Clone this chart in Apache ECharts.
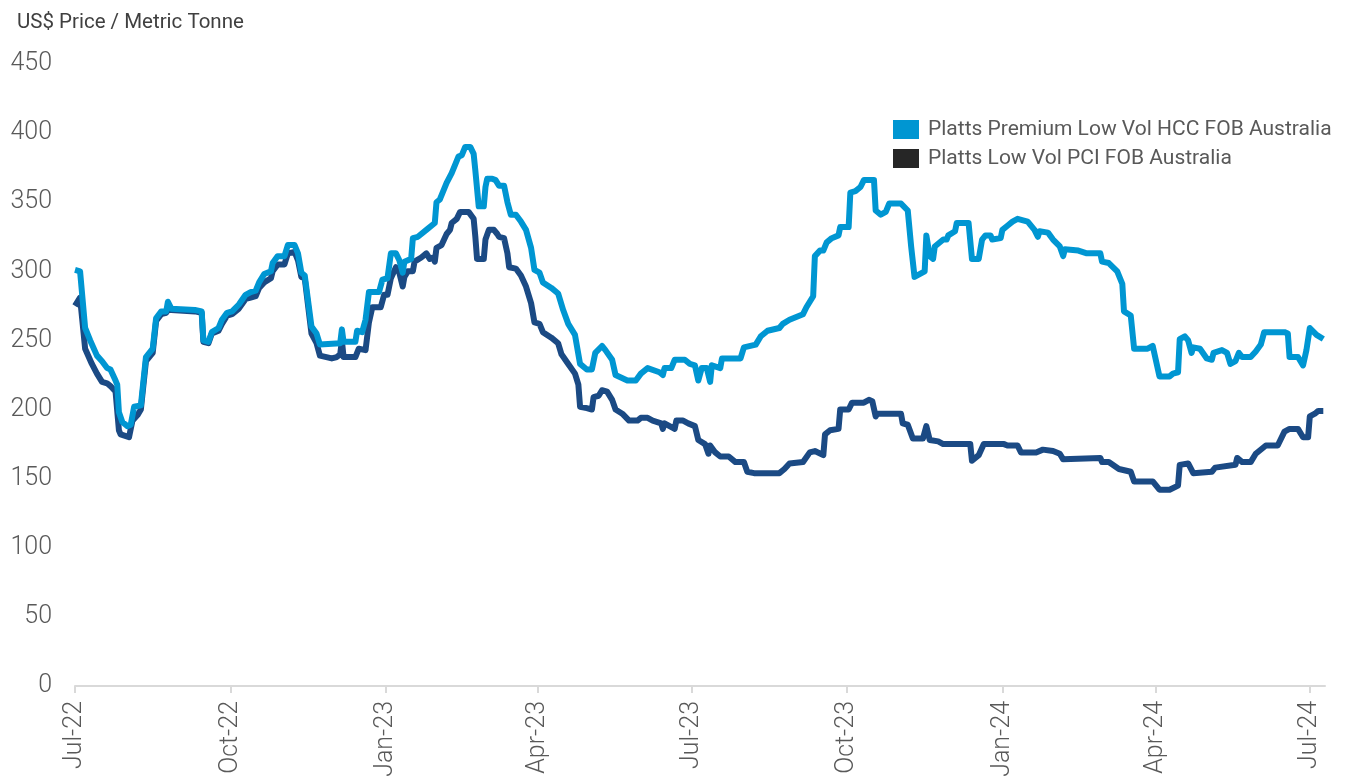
<!DOCTYPE html>
<html>
<head>
<meta charset="utf-8">
<script src="https://cdn.jsdelivr.net/npm/echarts@6/dist/echarts.min.js"></script>
<style>
html,body{margin:0;padding:0;background:#fff;}
#chart{width:1345px;height:782px;}
</style>
</head>
<body>
<div id="chart"></div>
<script>
const axisStart = '2022-07-01';
const axisEnd = '2024-07-10';
const seriesNames = ['Platts Premium Low Vol HCC FOB Australia', 'Platts Low Vol PCI FOB Australia'];
const yTitle = 'US$ Price / Metric Tonne';
const monthNames = ['Jan','Feb','Mar','Apr','May','Jun','Jul','Aug','Sep','Oct','Nov','Dec'];

const hcc = [
['2022-07-01',301],['2022-07-04',300],['2022-07-07',259],['2022-07-10',250],['2022-07-14',239],['2022-07-17',235],
['2022-07-20',230],['2022-07-22',229],['2022-07-25',221],['2022-07-26',218],['2022-07-27',198],['2022-07-29',191],
['2022-08-01',188],['2022-08-03',189],['2022-08-05',202],['2022-08-09',203],['2022-08-12',238],['2022-08-16',244],
['2022-08-18',266],['2022-08-21',271],['2022-08-24',271],['2022-08-25',278],['2022-08-27',273],['2022-09-10',272],
['2022-09-14',271],['2022-09-15',250],['2022-09-18',249],['2022-09-20',256],['2022-09-24',259],['2022-09-26',265],
['2022-09-29',270],['2022-10-02',271],['2022-10-06',276],['2022-10-10',283],['2022-10-13',285],['2022-10-16',286],
['2022-10-18',292],['2022-10-21',298],['2022-10-25',300],['2022-10-26',306],['2022-10-29',311],['2022-11-02',311],
['2022-11-04',319],['2022-11-08',319],['2022-11-10',313],['2022-11-12',299],['2022-11-14',297],['2022-11-18',260],
['2022-11-21',255],['2022-11-23',247],['2022-12-05',248],['2022-12-06',258],['2022-12-07',249],['2022-12-14',249],
['2022-12-15',257],['2022-12-18',256],['2022-12-20',265],['2022-12-22',285],['2022-12-28',285],['2022-12-30',294],
['2023-01-02',295],['2023-01-04',313],['2023-01-07',313],['2023-01-09',308],['2023-01-11',299],['2023-01-12',307],
['2023-01-16',309],['2023-01-17',324],['2023-01-20',325],['2023-01-25',330],['2023-01-30',335],['2023-01-31',350],
['2023-02-02',352],['2023-02-06',364],['2023-02-09',371],['2023-02-11',377],['2023-02-13',383],['2023-02-15',384],
['2023-02-17',390],['2023-02-20',390],['2023-02-22',385],['2023-02-23',373],['2023-02-25',347],['2023-02-28',347],
['2023-03-01',361],['2023-03-02',367],['2023-03-05',367],['2023-03-07',366],['2023-03-09',362],['2023-03-12',362],
['2023-03-14',350],['2023-03-16',341],['2023-03-19',341],['2023-03-22',336],['2023-03-25',330],['2023-03-28',317],
['2023-03-30',301],['2023-04-02',299],['2023-04-04',292],['2023-04-09',288],['2023-04-13',284],['2023-04-16',272],
['2023-04-19',262],['2023-04-23',254],['2023-04-26',233],['2023-04-30',229],['2023-05-03',229],['2023-05-05',241],
['2023-05-09',246],['2023-05-11',243],['2023-05-15',236],['2023-05-17',225],['2023-05-24',221],['2023-05-29',221],
['2023-06-01',226],['2023-06-05',230],['2023-06-12',227],['2023-06-14',225],['2023-06-15',230],['2023-06-19',230],
['2023-06-21',236],['2023-06-27',236],['2023-06-30',233],['2023-07-03',232],['2023-07-05',221],['2023-07-07',230],
['2023-07-10',230],['2023-07-12',220],['2023-07-13',232],['2023-07-18',230],['2023-07-19',237],['2023-07-30',237],
['2023-08-01',245],['2023-08-08',247],['2023-08-11',253],['2023-08-15',257],['2023-08-22',259],['2023-08-24',262],
['2023-08-28',265],['2023-09-05',269],['2023-09-07',274],['2023-09-11',282],['2023-09-12',311],['2023-09-15',315],
['2023-09-17',315],['2023-09-19',321],['2023-09-22',324],['2023-09-26',326],['2023-09-27',332],['2023-10-02',332],
['2023-10-03',357],['2023-10-06',358],['2023-10-09',361],['2023-10-11',366],['2023-10-17',366],['2023-10-18',344],
['2023-10-21',341],['2023-10-24',343],['2023-10-26',349],['2023-11-02',349],['2023-11-06',344],['2023-11-08',318],
['2023-11-10',296],['2023-11-16',300],['2023-11-17',326],['2023-11-19',311],['2023-11-21',309],['2023-11-22',318],
['2023-11-27',323],['2023-11-29',323],['2023-11-30',326],['2023-12-04',329],['2023-12-05',335],['2023-12-12',335],
['2023-12-14',309],['2023-12-18',309],['2023-12-20',323],['2023-12-22',326],['2023-12-25',326],['2023-12-26',323],
['2023-12-31',324],['2024-01-01',330],['2024-01-04',333],['2024-01-07',336],['2024-01-10',338],['2024-01-16',336],
['2024-01-20',330],['2024-01-22',325],['2024-01-23',329],['2024-01-28',328],['2024-01-31',323],['2024-02-04',318],
['2024-02-06',311],['2024-02-07',316],['2024-02-15',315],['2024-02-20',313],['2024-02-28',313],['2024-02-29',307],
['2024-03-04',306],['2024-03-09',300],['2024-03-12',291],['2024-03-13',271],['2024-03-17',268],['2024-03-19',244],
['2024-03-27',244],['2024-03-30',246],['2024-04-03',224],['2024-04-09',224],['2024-04-11',226],['2024-04-14',227],
['2024-04-15',251],['2024-04-18',253],['2024-04-20',250],['2024-04-22',241],['2024-04-23',245],['2024-04-27',244],
['2024-05-01',237],['2024-05-04',236],['2024-05-05',241],['2024-05-10',243],['2024-05-13',241],['2024-05-15',233],
['2024-05-18',235],['2024-05-20',241],['2024-05-22',238],['2024-05-27',238],['2024-05-30',242],['2024-06-02',247],
['2024-06-04',256],['2024-06-16',256],['2024-06-18',255],['2024-06-19',238],['2024-06-24',238],['2024-06-27',232],
['2024-06-29',243],['2024-07-01',259],['2024-07-05',254],['2024-07-09',251]
];

const pci = [
['2022-07-01',275],['2022-07-04',281],['2022-07-07',244],['2022-07-11',233],['2022-07-14',226],['2022-07-17',220],
['2022-07-20',219],['2022-07-22',217],['2022-07-25',213],['2022-07-27',185],['2022-07-28',182],['2022-08-02',180],
['2022-08-04',192],['2022-08-07',196],['2022-08-09',200],['2022-08-12',235],['2022-08-16',241],['2022-08-18',264],
['2022-08-21',269],['2022-08-24',270],['2022-08-25',272],['2022-08-27',272],['2022-09-10',271],['2022-09-14',270],
['2022-09-15',249],['2022-09-18',248],['2022-09-20',255],['2022-09-24',257],['2022-09-26',262],['2022-09-29',268],
['2022-10-02',269],['2022-10-06',273],['2022-10-10',280],['2022-10-13',281],['2022-10-16',282],['2022-10-18',288],
['2022-10-21',292],['2022-10-25',295],['2022-10-26',300],['2022-10-29',305],['2022-11-02',305],['2022-11-04',313],
['2022-11-08',314],['2022-11-10',308],['2022-11-12',296],['2022-11-14',295],['2022-11-18',255],['2022-11-21',248],
['2022-11-23',239],['2022-11-30',237],['2022-12-03',238],['2022-12-05',240],['2022-12-06',250],['2022-12-07',238],
['2022-12-14',238],['2022-12-16',244],['2022-12-20',243],['2022-12-22',263],['2022-12-24',274],['2022-12-29',274],
['2022-12-31',283],['2023-01-02',283],['2023-01-04',295],['2023-01-07',303],['2023-01-09',299],['2023-01-11',289],
['2023-01-12',296],['2023-01-14',300],['2023-01-17',300],['2023-01-18',307],['2023-01-22',310],['2023-01-25',313],
['2023-01-27',309],['2023-01-29',310],['2023-01-30',307],['2023-01-31',317],['2023-02-03',319],['2023-02-06',327],
['2023-02-08',330],['2023-02-09',335],['2023-02-12',338],['2023-02-14',343],['2023-02-19',343],['2023-02-22',338],
['2023-02-23',325],['2023-02-24',309],['2023-02-28',309],['2023-03-01',323],['2023-03-03',330],['2023-03-06',330],
['2023-03-08',327],['2023-03-09',325],['2023-03-12',324],['2023-03-14',313],['2023-03-15',303],['2023-03-19',302],
['2023-03-22',297],['2023-03-25',289],['2023-03-28',277],['2023-03-30',263],['2023-04-02',262],['2023-04-04',256],
['2023-04-09',252],['2023-04-13',248],['2023-04-15',240],['2023-04-19',233],['2023-04-23',226],['2023-04-25',218],
['2023-04-26',202],['2023-04-30',201],['2023-05-03',200],['2023-05-04',209],['2023-05-07',210],['2023-05-09',214],
['2023-05-12',213],['2023-05-15',207],['2023-05-17',200],['2023-05-21',197],['2023-05-25',192],['2023-05-30',192],
['2023-06-01',194],['2023-06-05',194],['2023-06-08',192],['2023-06-13',190],['2023-06-14',186],['2023-06-15',190],
['2023-06-18',188],['2023-06-21',186],['2023-06-22',192],['2023-06-26',192],['2023-06-29',190],['2023-07-03',188],
['2023-07-05',178],['2023-07-09',175],['2023-07-11',168],['2023-07-12',174],['2023-07-15',169],['2023-07-18',166],
['2023-07-23',166],['2023-07-27',162],['2023-08-01',162],['2023-08-03',155],['2023-08-07',154],['2023-08-22',154],
['2023-08-25',157],['2023-08-28',161],['2023-09-05',162],['2023-09-09',169],['2023-09-12',170],['2023-09-17',167],
['2023-09-18',182],['2023-09-21',185],['2023-09-26',186],['2023-09-27',200],['2023-10-02',200],['2023-10-04',205],
['2023-10-11',205],['2023-10-14',207],['2023-10-16',206],['2023-10-18',195],['2023-10-19',197],['2023-11-02',197],
['2023-11-03',190],['2023-11-06',189],['2023-11-09',179],['2023-11-15',179],['2023-11-17',188],['2023-11-19',178],
['2023-11-24',177],['2023-11-27',175],['2023-12-13',175],['2023-12-14',163],['2023-12-18',167],['2023-12-21',175],
['2024-01-02',175],['2024-01-04',174],['2024-01-10',174],['2024-01-12',169],['2024-01-21',169],['2024-01-22',168],
['2024-01-25',171],['2024-01-31',170],['2024-02-04',168],['2024-02-06',164],['2024-02-28',165],['2024-02-29',162],
['2024-03-04',162],['2024-03-10',157],['2024-03-17',155],['2024-03-19',148],['2024-03-30',148],['2024-04-03',142],
['2024-04-09',142],['2024-04-14',145],['2024-04-15',160],['2024-04-20',161],['2024-04-23',154],['2024-05-04',155],
['2024-05-06',158],['2024-05-18',160],['2024-05-19',165],['2024-05-22',162],['2024-05-27',162],['2024-05-30',168],
['2024-06-05',174],['2024-06-12',174],['2024-06-16',184],['2024-06-19',186],['2024-06-24',186],['2024-06-27',180],
['2024-06-30',180],['2024-07-01',195],['2024-07-04',197],['2024-07-06',199],['2024-07-09',199]
];

function pad(n){return n<10?'0'+n:''+n;}
function dayRange(a,b){
  const out=[]; const d=new Date(a+'T00:00:00Z'); const e=new Date(b+'T00:00:00Z');
  while(d<=e){out.push(d.getUTCFullYear()+'-'+pad(d.getUTCMonth()+1)+'-'+pad(d.getUTCDate())); d.setUTCDate(d.getUTCDate()+1);}
  return out;
}
const categories = dayRange(axisStart, axisEnd);
function isQuarterStart(idx, val){
  const m = +val.slice(5,7), dd = +val.slice(8,10);
  return dd===1 && (m===1||m===4||m===7||m===10);
}

const chart = echarts.init(document.getElementById('chart'));
const FONT = 'Roboto, "Noto Sans", sans-serif';
chart.setOption({
  animation:false,
  backgroundColor:'#fff',
  title:{text:yTitle,left:12,top:7,textStyle:{fontFamily:FONT,fontSize:20.5,fontWeight:'normal',color:'#404040'}},
  legend:{
    orient:'vertical',left:888,top:114,itemWidth:26,itemHeight:19,itemGap:8,icon:'rect',
    textStyle:{fontFamily:FONT,fontSize:21,fontWeight:'normal',color:'#595959',padding:[0,0,0,4]},
    data:[{name:seriesNames[0],itemStyle:{color:'#0096D2'}},{name:seriesNames[1],itemStyle:{color:'#262626'}}]
  },
  grid:{left:75,right:20,top:64,bottom:96,containLabel:false},
  xAxis:{
    type:'category',data:categories,boundaryGap:false,
    axisLine:{show:true,lineStyle:{color:'#d9d9d9',width:2}},
    axisTick:{show:true,interval:isQuarterStart,length:7,lineStyle:{color:'#d9d9d9',width:2}},
    axisLabel:{interval:isQuarterStart,rotate:90,margin:15,fontFamily:FONT,fontSize:25,fontWeight:300,color:'#595959',
      formatter:function(v){return monthNames[+v.slice(5,7)-1]+'-'+v.slice(2,4);}},
    splitLine:{show:false}
  },
  yAxis:{
    type:'value',min:0,max:450,interval:50,
    axisLine:{show:false},axisTick:{show:false},splitLine:{show:false},
    axisLabel:{margin:23,fontFamily:FONT,fontSize:25,fontWeight:300,color:'#595959'}
  },
  series:[
    {name:seriesNames[1],type:'line',data:pci,symbol:'none',z:2,
      lineStyle:{color:'#1B4A84',width:6,join:'round'},itemStyle:{color:'#1B4A84'}},
    {name:seriesNames[0],type:'line',data:hcc,symbol:'none',z:3,
      lineStyle:{color:'#0096D2',width:6,join:'round'},itemStyle:{color:'#0096D2'}}
  ]
});
</script>
</body>
</html>
